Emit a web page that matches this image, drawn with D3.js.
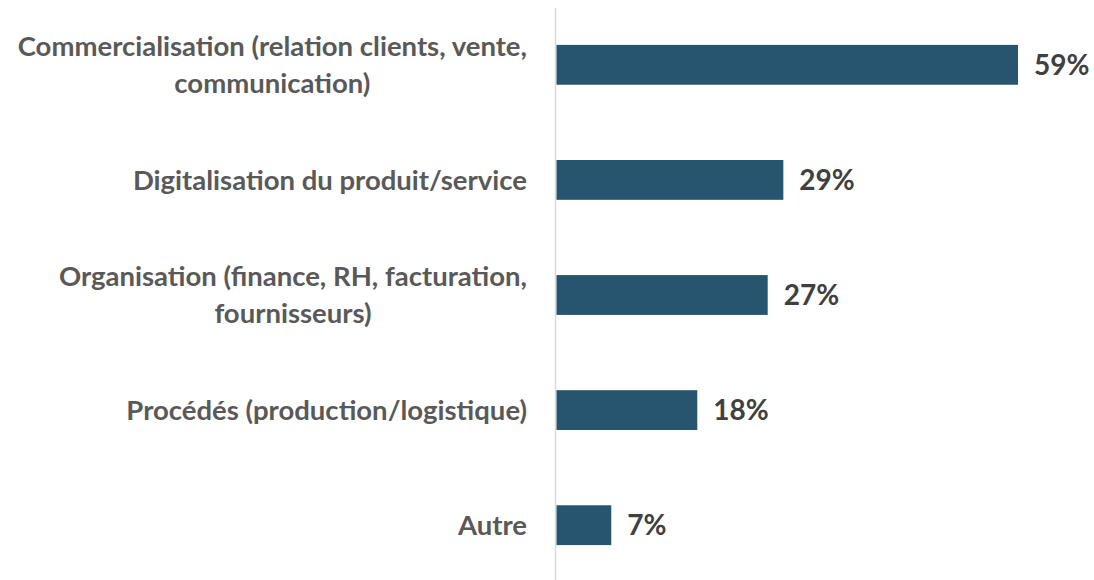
<!DOCTYPE html>
<html><head><meta charset="utf-8">
<script src="https://cdn.jsdelivr.net/npm/d3@7"></script>
<style>body{margin:0;background:#fff}svg{display:block}</style>
</head><body>
<svg id="c" width="1094" height="580"></svg>
<script>
const categories = [
  ["Commercialisation (relation clients, vente,", "communication)"],
  ["Digitalisation du produit/service"],
  ["Organisation (finance, RH, facturation,", "fournisseurs)"],
  ["Procédés (production/logistique)"],
  ["Autre"]
];
const values = [0.59, 0.29, 0.27, 0.18, 0.07];
const valueLabels = ["59%", "29%", "27%", "18%", "7%"];

const svg = d3.select("#c");
const font = "Lato, 'Open Sans', sans-serif";
const ids = d3.range(categories.length);
const y = d3.scaleBand().domain(ids).range([6, 584]).paddingInner(0.654).paddingOuter(0.338);
const x = d3.scaleLinear().domain([0, 0.59]).range([556.5, 1018]);

svg.append("line").attr("x1", 555.5).attr("x2", 555.5).attr("y1", 8).attr("y2", 580)
  .attr("stroke", "#d9d9d9").attr("stroke-width", 1.5);

svg.selectAll("rect.bar").data(ids).join("rect").attr("class", "bar")
  .attr("x", x(0)).attr("y", i => y(i)).attr("height", y.bandwidth())
  .attr("width", i => x(values[i]) - x(0)).attr("fill", "#27556f");

svg.selectAll("text.val").data(ids).join("text").attr("class", "val")
  .attr("x", i => x(values[i]) + 16).attr("y", i => y(i) + y.bandwidth() / 2)
  .attr("dy", "0.36em").attr("font-family", font).attr("font-weight", "bold")
  .attr("font-size", 28).attr("fill", "#404040").text(i => valueLabels[i]);

const lineH = 37;
const right = 527;
ids.forEach(i => {
  const lines = categories[i];
  const g = svg.append("g");
  const cy = y(i) + y.bandwidth() / 2;
  const ts = lines.map((l, k) => g.append("text")
    .attr("y", cy + (k - (lines.length - 1) / 2) * lineH).attr("dy", "0.36em")
    .attr("font-family", font).attr("font-weight", "bold").attr("font-size", 27.5)
    .attr("fill", "#595959").attr("text-anchor", "middle").text(l));
  const maxW = d3.max(ts, t => t.node().getComputedTextLength());
  ts.forEach(t => t.attr("x", right - maxW / 2));
});
</script>
</body></html>
